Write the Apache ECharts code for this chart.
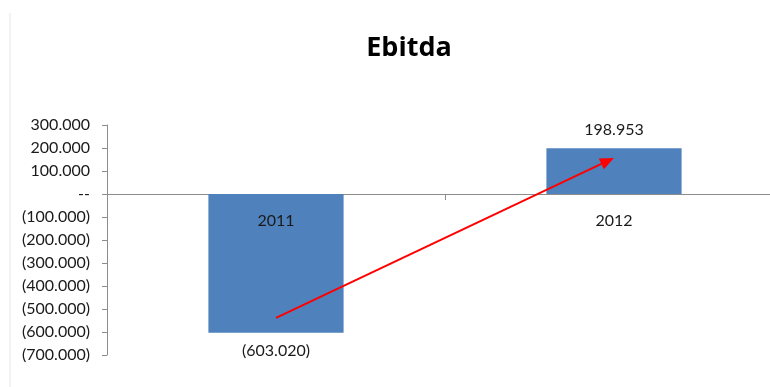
<!DOCTYPE html>
<html>
<head>
<meta charset="utf-8">
<script src="https://cdn.jsdelivr.net/npm/echarts@6/dist/echarts.min.js"></script>
<style>
  html, body { margin: 0; padding: 0; background: #fff; overflow: hidden; }
  /* the plot area runs slightly past the right edge of the window */
  #chart { width: 790px; height: 387px; }
</style>
</head>
<body>
<div id="chart"></div>
<script>
// Ebitda by year
const years = ['2011', '2012'];
const ebitda = [-603020, 198953];
const yMin = -700000;
const yMax = 300000;
const yStep = 100000;

// Accounting-style number: dot as thousands separator, negatives in brackets, zero as dashes
function fmt(v) {
  const n = Math.abs(Math.round(v));
  if (n === 0) return '--';
  const s = Math.floor(n / 1000).toString() + '.' + String(n % 1000).padStart(3, '0');
  return v < 0 ? '(' + s + ')' : s;
}

const FONT = 'Lato, "Open Sans", sans-serif';
const AXIS_GREY = '#8c8c8c';
const GRID_H = 230;
// distance from the bottom of the plot up to the zero line
const zeroOffset = -GRID_H * (0 - yMin) / (yMax - yMin);

const chart = echarts.init(document.getElementById('chart'), null, { renderer: 'canvas' });

chart.setOption({
  animation: false,
  backgroundColor: '#ffffff',
  title: {
    text: 'Ebitda',
    left: 404,
    textAlign: 'center',
    top: 30,
    textStyle: { fontFamily: '"Open Sans", sans-serif', fontWeight: 'bold', fontSize: 27, color: '#000' }
  },
  grid: { left: 107, top: 125, width: 676, height: GRID_H, containLabel: false },
  xAxis: [
    {
      // axis line and ticks along the zero line
      type: 'category',
      data: years,
      axisLine: { onZero: true, lineStyle: { color: AXIS_GREY, width: 1 } },
      axisTick: { show: true, length: 6, lineStyle: { color: AXIS_GREY } },
      axisLabel: { show: false },
      splitLine: { show: false }
    },
    {
      // category names sitting just under the zero line, over the bars
      type: 'category',
      data: years,
      position: 'bottom',
      offset: zeroOffset,
      z: 10,
      axisLine: { show: false, onZero: false },
      axisTick: { show: false },
      axisLabel: { margin: 19, fontFamily: FONT, fontSize: 16, color: '#1a1a1a' },
      splitLine: { show: false }
    }
  ],
  yAxis: {
    type: 'value',
    min: yMin,
    max: yMax,
    interval: yStep,
    axisLine: { show: true, lineStyle: { color: AXIS_GREY, width: 1 } },
    axisTick: { show: true, length: 5, lineStyle: { color: AXIS_GREY } },
    axisLabel: { margin: 17, fontFamily: FONT, fontSize: 16, color: '#1a1a1a', formatter: fmt },
    splitLine: { show: false }
  },
  series: [{
    type: 'bar',
    xAxisIndex: 0,
    data: ebitda,
    barWidth: '40%',
    itemStyle: { color: '#4f81bd' },
    label: {
      show: true,
      position: 'outside',
      distance: 10,
      fontFamily: FONT,
      fontSize: 16,
      color: '#1a1a1a',
      formatter: p => fmt(p.value)
    }
  }]
});

// Trend arrow from inside the 2011 bar up to the 2012 bar, placed in data space
const arrowFrom = [0, -539000];
const arrowTo = [0.985, 157000];
const p0 = chart.convertToPixel({ xAxisIndex: 0, yAxisIndex: 0 }, arrowFrom);
const p1 = chart.convertToPixel({ xAxisIndex: 0, yAxisIndex: 0 }, arrowTo);
const ang = Math.atan2(p1[1] - p0[1], p1[0] - p0[0]);
const headLen = 14, headHalf = 6;
const bx = p1[0] - headLen * Math.cos(ang), by = p1[1] - headLen * Math.sin(ang);
const nx = -Math.sin(ang) * headHalf, ny = Math.cos(ang) * headHalf;

chart.setOption({
  graphic: [
    {
      type: 'line',
      z: 100,
      shape: { x1: 10, y1: 13, x2: 10, y2: 387 },
      style: { stroke: '#e6e6e6', lineWidth: 1 }
    },
    {
      type: 'line',
      z: 100,
      shape: { x1: p0[0], y1: p0[1], x2: bx, y2: by },
      style: { stroke: '#ff0000', lineWidth: 2 }
    },
    {
      type: 'polygon',
      z: 100,
      shape: { points: [[p1[0], p1[1]], [bx + nx, by + ny], [bx - nx, by - ny]] },
      style: { fill: '#ff0000' }
    }
  ]
});
</script>
</body>
</html>
